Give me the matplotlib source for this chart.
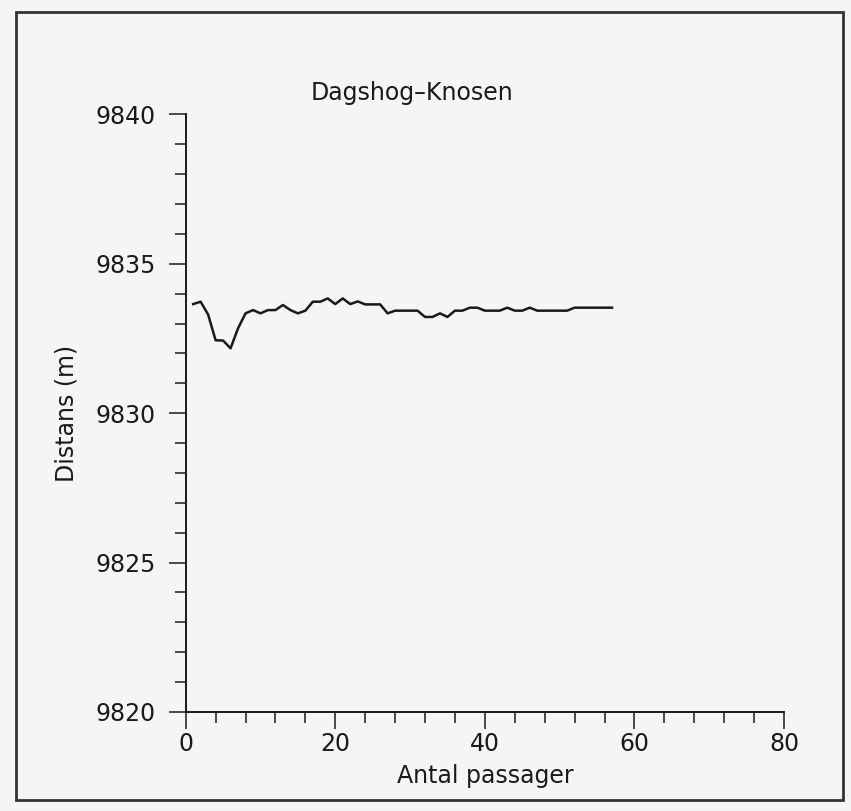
import matplotlib.pyplot as plt
from matplotlib.patches import Rectangle
from matplotlib.ticker import MultipleLocator

# Antal passager (x) och distans (m)
passager = list(range(1, 58))
distans = [
    9833.65, 9833.73, 9833.30, 9832.44, 9832.43, 9832.17, 9832.84, 9833.34,
    9833.45, 9833.34, 9833.45, 9833.45, 9833.62, 9833.45, 9833.34, 9833.43,
    9833.73, 9833.73, 9833.84, 9833.65, 9833.84, 9833.65, 9833.74, 9833.64,
    9833.64, 9833.64, 9833.34, 9833.43, 9833.43, 9833.43, 9833.43, 9833.22,
    9833.22, 9833.34, 9833.22, 9833.43, 9833.43, 9833.53, 9833.53, 9833.43,
    9833.43, 9833.43, 9833.53, 9833.43, 9833.43, 9833.53, 9833.43, 9833.43,
    9833.43, 9833.43, 9833.43, 9833.53, 9833.53, 9833.53, 9833.53, 9833.53,
    9833.53,
]
x_ticks = [0, 20, 40, 60, 80]
y_ticks = [9820, 9825, 9830, 9835, 9840]

bg = '#f5f5f3'
ink = '#1a1a1a'

plt.rcParams['font.family'] = 'DejaVu Sans'

fig = plt.figure(figsize=(8.51, 8.11), dpi=100, facecolor=bg)
ax = fig.add_axes([0.2182, 0.1221, 0.7031, 0.7369], facecolor=bg)

ax.plot(passager, distans, color=ink, linewidth=1.8)

ax.set_xlim(0, 80)
ax.set_ylim(9820, 9840)
ax.set_xticks(x_ticks)
ax.set_yticks(y_ticks)
ax.xaxis.set_minor_locator(MultipleLocator(4))
ax.yaxis.set_minor_locator(MultipleLocator(1))

for s in ['top', 'right']:
    ax.spines[s].set_visible(False)
for s in ['left', 'bottom']:
    ax.spines[s].set_linewidth(1.4)
    ax.spines[s].set_color(ink)

ax.tick_params(which='major', direction='out', length=12.5, width=1.1, color=ink,
               labelsize=17, labelcolor=ink)
ax.tick_params(which='minor', direction='out', length=8, width=1.1, color=ink)
ax.tick_params(axis='y', which='major', pad=9)
ax.tick_params(axis='x', which='major', pad=2)

ax.set_xlabel('Antal passager', fontsize=17, color=ink, labelpad=6)
ax.set_ylabel('Distans (m)', fontsize=17, color=ink, labelpad=12)
ax.text(412 / 851, 1 - 93 / 811, 'Dagshog\u2013Knosen', transform=fig.transFigure,
        ha='center', va='center', fontsize=17, color=ink)

# ram runt hela bilden
fig.patches.append(Rectangle((0.019, 0.013), 0.972, 0.972, transform=fig.transFigure,
                             fill=False, edgecolor='#333333', linewidth=2))

fig.savefig('out.png', dpi=100, facecolor=bg)
